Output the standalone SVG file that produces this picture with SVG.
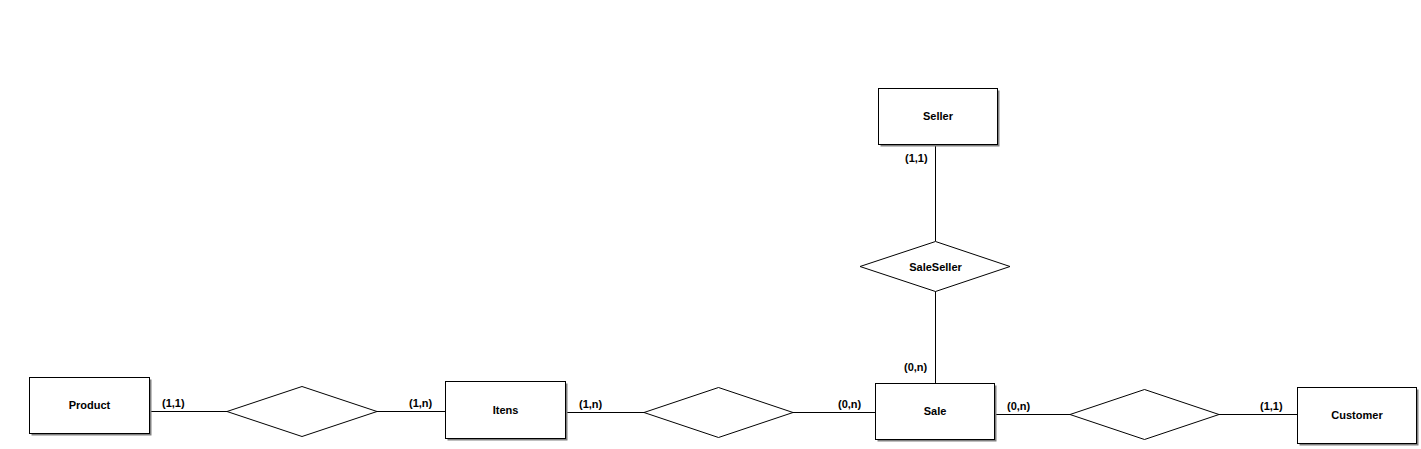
<svg xmlns="http://www.w3.org/2000/svg" width="1421" height="449" viewBox="0 0 1421 449">
<style>
.sh{fill:#808080;stroke:none}
.ent{fill:#fff;stroke:#000;stroke-width:1}
.rel{fill:#fff;stroke:#000;stroke-width:1}
.ln{stroke:#000;stroke-width:1;fill:none}
.t{font-family:"Liberation Sans",Arial,sans-serif;font-weight:bold;font-size:11px;fill:#000;text-anchor:middle}
.c{font-family:"Liberation Sans",Arial,sans-serif;font-weight:bold;font-size:11px;fill:#000}
</style>
<rect width="1421" height="449" fill="#fff"/>
<g id="connectors">
<line class="ln" x1="149" y1="411.5" x2="227" y2="411.5"/>
<line class="ln" x1="377" y1="411.5" x2="445" y2="411.5"/>
<line class="ln" x1="565" y1="412.5" x2="644" y2="412.5"/>
<line class="ln" x1="793" y1="412.5" x2="875" y2="412.5"/>
<line class="ln" x1="995" y1="414.5" x2="1070" y2="414.5"/>
<line class="ln" x1="1219" y1="414.5" x2="1297" y2="414.5"/>
<line class="ln" x1="935.5" y1="144" x2="935.5" y2="241"/>
<line class="ln" x1="935.5" y1="291" x2="935.5" y2="383"/>
<text class="c" x="162" y="407">(1,1)</text>
<text class="c" x="409" y="407">(1,n)</text>
<text class="c" x="579" y="408">(1,n)</text>
<text class="c" x="838" y="408">(0,n)</text>
<text class="c" x="904" y="371">(0,n)</text>
<text class="c" x="1007" y="410">(0,n)</text>
<text class="c" x="1260" y="410">(1,1)</text>
<text class="c" x="905" y="162">(1,1)</text>
</g>
<g id="Product">
<rect class="sh" x="31.5" y="379.5" width="120" height="56"/>
<rect class="ent" x="29.5" y="377.5" width="120" height="56"/>
<text class="t" x="89.5" y="409">Product</text>
</g>
<g id="R1">
<polygon class="rel" points="227,411.5 302,386.5 377,411.5 302,436.5"/>
</g>
<g id="Itens">
<rect class="sh" x="447.5" y="383.5" width="120" height="57"/>
<rect class="ent" x="445.5" y="381.5" width="120" height="57"/>
<text class="t" x="505.5" y="414">Itens</text>
</g>
<g id="R2">
<polygon class="rel" points="644,412.5 718.5,387.5 793,412.5 718.5,437.5"/>
</g>
<g id="Sale">
<rect class="sh" x="877.5" y="385.5" width="119" height="56"/>
<rect class="ent" x="875.5" y="383.5" width="119" height="56"/>
<text class="t" x="935" y="415">Sale</text>
</g>
<g id="R3">
<polygon class="rel" points="1070,414.5 1144.5,389.5 1219,414.5 1144.5,439.5"/>
</g>
<g id="Customer">
<rect class="sh" x="1299.5" y="389.5" width="119" height="56"/>
<rect class="ent" x="1297.5" y="387.5" width="119" height="56"/>
<text class="t" x="1357" y="419">Customer</text>
</g>
<g id="Seller">
<rect class="sh" x="880.5" y="90.5" width="119" height="56"/>
<rect class="ent" x="878.5" y="88.5" width="119" height="56"/>
<text class="t" x="938" y="120">Seller</text>
</g>
<g id="SaleSeller">
<polygon class="rel" points="860,266.5 935.5,241.5 1010,266.5 935.5,291.5"/>
<text class="t" x="935.5" y="270.5">SaleSeller</text>
</g>
</svg>
